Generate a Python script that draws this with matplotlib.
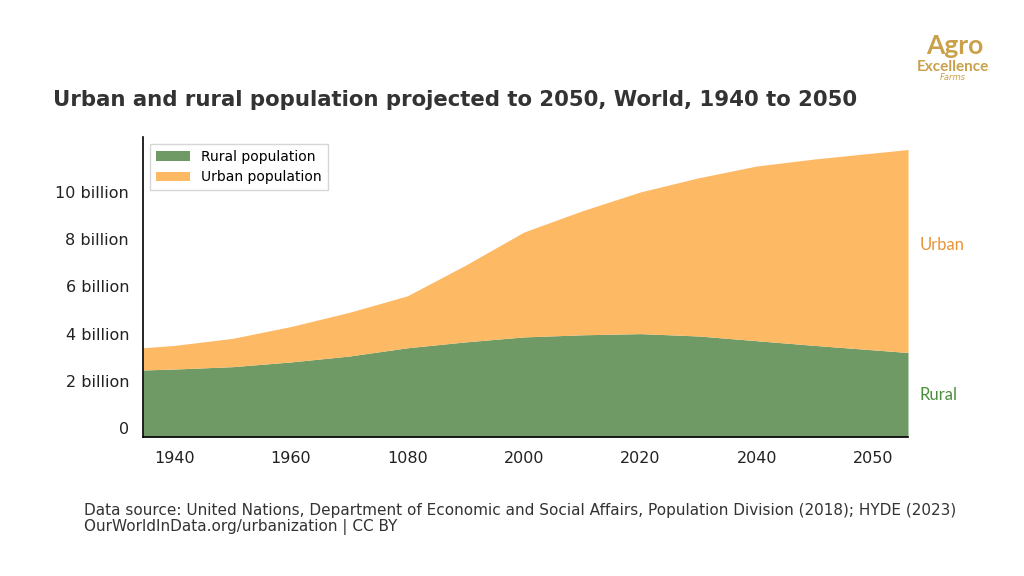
import matplotlib.pyplot as plt

years = [1934.6, 1940, 1950, 1960, 1970, 1980, 1990, 2000, 2010, 2020, 2030, 2040, 2050, 2066]
rural = [2.46, 2.5, 2.6, 2.8, 3.05, 3.4, 3.65, 3.86, 3.95, 4.0, 3.9, 3.7, 3.5, 3.2]
total = [3.4, 3.5, 3.8, 4.3, 4.9, 5.6, 6.9, 8.3, 9.2, 10.0, 10.6, 11.1, 11.4, 11.8]
tick_pos = [1940, 1960, 1980, 2000, 2020, 2040, 2060]
tick_labels = ["1940", "1960", "1080", "2000", "2020", "2040", "2050"]
ytick_vals = [0, 2, 4, 6, 8, 10]
ytick_labels = ["0", "2 billion", "4 billion", "6 billion", "8 billion", "10 billion"]

RURAL_C = "#6f9a65"
URBAN_C = "#fdb964"
YMIN, YMAX = -0.38, 12.33

fig = plt.figure(figsize=(10.24, 5.76), dpi=100)
ax = fig.add_axes([143/1024, 1-437/576, (908-143)/1024, (437-137)/576])

ax.fill_between(years, YMIN, rural, color=RURAL_C, lw=0, label="Rural population")
ax.fill_between(years, rural, total, color=URBAN_C, lw=0, label="Urban population")
ax.set_xlim(years[0], years[-1])
ax.set_ylim(YMIN, YMAX)
ax.set_xticks(tick_pos)
ax.set_xticklabels(tick_labels, fontsize=11.5, color="#222")
ax.set_yticks(ytick_vals)
ax.set_yticklabels(ytick_labels, fontsize=11.5, color="#222")
ax.tick_params(length=0, pad=10)
ax.spines[["top", "right"]].set_visible(False)
ax.spines["left"].set_linewidth(1.2)
ax.spines["bottom"].set_linewidth(1.2)
ax.legend(loc="upper left", fontsize=10, bbox_to_anchor=(0.0, 1.0), fancybox=False,
          edgecolor="#ccc", handlelength=2.5)

ax.text(1.015, 0.64, "Urban", transform=ax.transAxes, color="#e8953a", fontsize=12,
        family="Lato", va="center")
ax.text(1.015, 0.14, "Rural", transform=ax.transAxes, color="#4a8f3a", fontsize=12,
        family="Lato", va="center")

fig.text(53/1024, 1-100/576, "Urban and rural population projected to 2050, World, 1940 to 2050",
         fontsize=15.3, fontweight="bold", color="#333", va="center")
fig.text(84/1024, 1-510/576, "Data source: United Nations, Department of Economic and Social Affairs, "
         "Population Division (2018); HYDE (2023)", fontsize=11, color="#333", va="center")
fig.text(84/1024, 1-527/576, "OurWorldInData.org/urbanization | CC BY", fontsize=11,
         color="#333", va="center")

fig.text(955/1024, 1-46/576, "Agro", fontsize=19, color="#c9a14a", ha="center", va="center",
         family="Lato", fontweight="bold")
fig.text(953/1024, 1-67/576, "Excellence", fontsize=11, color="#c9a14a", ha="center",
         va="center", family="Lato", fontweight="bold")
fig.text(953/1024, 1-78/576, "Farms", fontsize=6, color="#c9a14a", ha="center",
         va="center", style="italic")

fig.savefig("out.png", dpi=100)
